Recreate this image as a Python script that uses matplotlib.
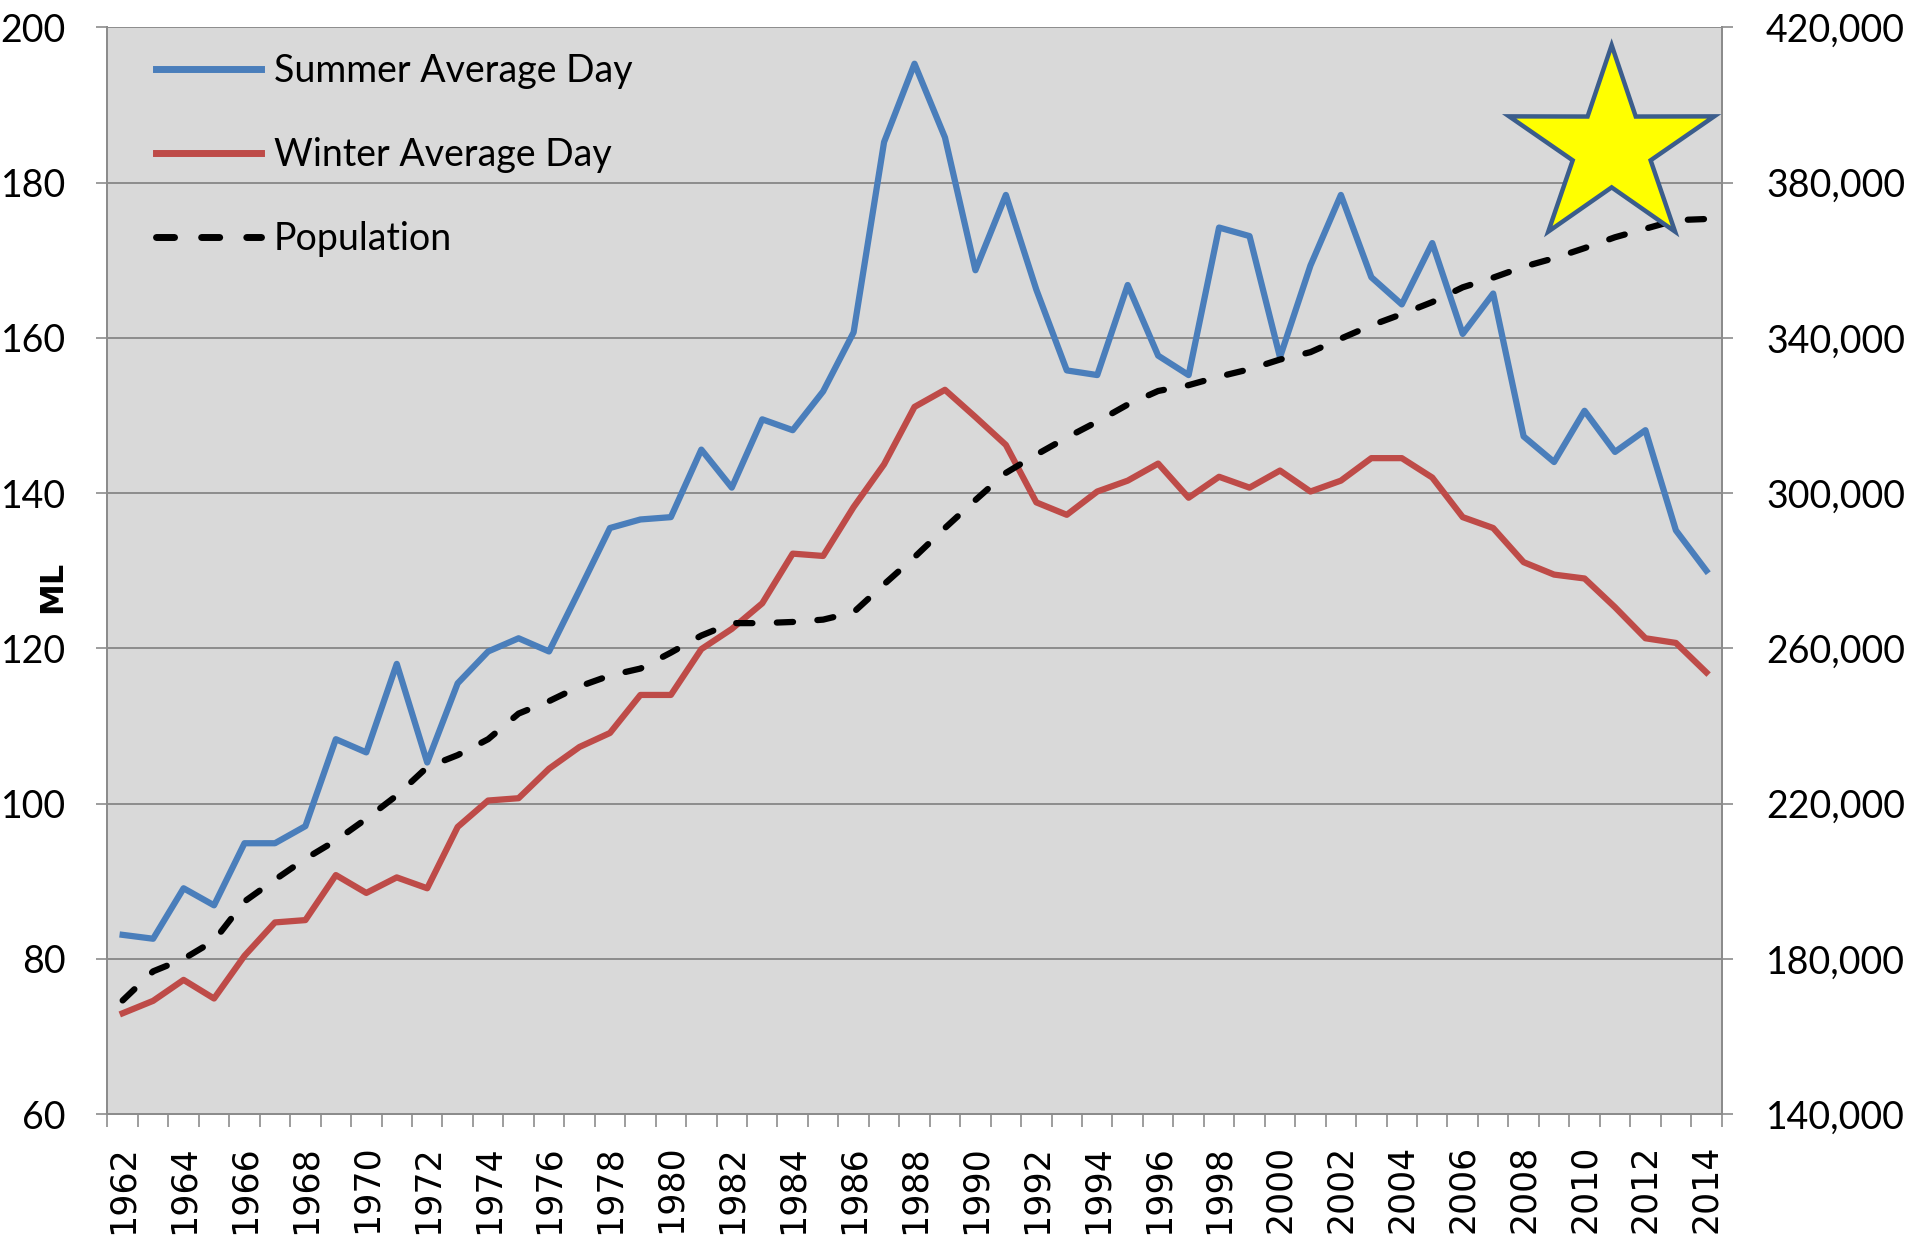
import numpy as np
import matplotlib
matplotlib.use("Agg")
import matplotlib.pyplot as plt
from matplotlib.patches import Polygon
from matplotlib.ticker import FixedLocator, FuncFormatter

# Daily water use (ML) and population, 1962-2014
years = list(range(1962, 2015))

summer_avg = [83.1, 82.6, 89.1, 86.9, 94.9, 94.9, 97.1, 108.3, 106.6, 118.0,
              105.3, 115.5, 119.6, 121.3, 119.6, 127.5, 135.5, 136.6, 136.9, 145.6,
              140.7, 149.5, 148.1, 153.1, 160.7, 185.2, 195.3, 185.8, 168.7, 178.4,
              166.2, 155.8, 155.2, 166.8, 157.7, 155.2, 174.2, 173.1, 157.5, 169.3,
              178.4, 167.8, 164.3, 172.2, 160.5, 165.7, 147.3, 144.0, 150.6, 145.3,
              148.1, 135.2, 130.0]

winter_avg = [73.0, 74.6, 77.3, 74.9, 80.4, 84.7, 85.0, 90.8, 88.5, 90.5,
              89.1, 97.0, 100.4, 100.7, 104.5, 107.3, 109.1, 114.0, 114.0, 119.9,
              122.5, 125.8, 132.2, 131.9, 138.2, 143.7, 151.1, 153.3, 149.8, 146.2,
              138.8, 137.2, 140.2, 141.6, 143.8, 139.4, 142.1, 140.7, 142.9, 140.2,
              141.6, 144.5, 144.5, 142.0, 136.9, 135.5, 131.1, 129.5, 129.0, 125.3,
              121.3, 120.7, 116.9]

population = [169300, 176800, 180000, 184700, 194800, 200400, 205800, 210500, 216100, 222100,
              229400, 232500, 236600, 243200, 246400, 250200, 253000, 254800, 258900, 263300,
              266500, 266500, 266800, 267400, 269300, 276500, 283500, 291000, 298200, 305200,
              309900, 314300, 318400, 322800, 326300, 327800, 330000, 331900, 334400, 336300,
              339800, 343200, 346100, 349200, 353000, 355500, 358300, 360500, 363100, 365900,
              368100, 370300, 370600]

left_ticks = [60, 80, 100, 120, 140, 160, 180, 200]
right_ticks = [140000, 180000, 220000, 260000, 300000, 340000, 380000, 420000]

BLUE = '#4a7ebb'
RED = '#be4b48'
GRID = '#8c8c8c'
LABEL_FONT = ['Lato', 'DejaVu Sans']


def star_points(cx, cy, rx, ry, inner=0.38):
    # five pointed star, first point straight up, in axes fraction
    pts = []
    for k in range(10):
        ang = np.pi / 2 + k * np.pi / 5
        r = 1.0 if k % 2 == 0 else inner
        pts.append((cx + rx * r * np.cos(ang), cy + ry * r * np.sin(ang)))
    return pts


fig = plt.figure(figsize=(19.15, 12.38), dpi=100)
ax = fig.add_axes([0.0561, 0.100, 0.8429, 0.878])
ax2 = ax.twinx()

ax.set_facecolor('#d9d9d9')
ax2.patch.set_visible(False)

xi = list(range(len(years)))
l1, = ax.plot(xi, summer_avg, color=BLUE, linewidth=4.5, solid_joinstyle='round', zorder=3)
l2, = ax.plot(xi, winter_avg, color=RED, linewidth=4.5, solid_joinstyle='round', zorder=3)
l3, = ax2.plot(xi, population, color='black', linewidth=4.5, linestyle=(0, (2.6, 3.9)),
               dash_capstyle='round', zorder=3)

ax.set_xlim(-0.5, len(years) - 0.5)
ax.set_ylim(60, 200)
ax2.set_ylim(140000, 420000)

ax.yaxis.set_major_locator(FixedLocator(left_ticks))
ax2.yaxis.set_major_locator(FixedLocator(right_ticks))
ax2.yaxis.set_major_formatter(FuncFormatter(lambda v, p: '{:,.0f}'.format(v)))

ax.grid(axis='y', color=GRID, linewidth=1.4)
ax.set_axisbelow(True)

# year labels every other year, tick marks on category boundaries
ax.set_xticks(xi[::2])
ax.set_xticklabels([str(y) for y in years[::2]], rotation=90, fontsize=25,
                   family='DejaVu Sans')
ax.set_xticks([i - 0.5 for i in range(len(years) + 1)], minor=True)
ax.tick_params(axis='x', which='major', length=0, pad=22)
ax.tick_params(axis='x', which='minor', length=9, width=1.2, color=GRID, direction='out')

ax.tick_params(axis='y', length=8, width=1.2, color=GRID, labelsize=27, pad=22)
ax2.tick_params(axis='y', length=8, width=1.2, color=GRID, labelsize=27, pad=24)
for lab in ax.get_yticklabels() + ax2.get_yticklabels():
    lab.set_family(LABEL_FONT)

for a in (ax, ax2):
    a.spines['top'].set_visible(False)
    for s in ('left', 'right', 'bottom'):
        a.spines[s].set_color(GRID)
        a.spines[s].set_linewidth(1.4)

# axis title sits between the tick labels, so place it on the figure
fig.text(0.0275, 0.526, 'ML', rotation=90, fontsize=23, fontweight='heavy',
         family=['DejaVu Sans'], ha='center', va='center')

leg = ax.legend([l1, l2, l3], ['Summer Average Day', 'Winter Average Day', 'Population'],
                loc='upper left', bbox_to_anchor=(0.030, 0.976), frameon=False,
                borderaxespad=0, borderpad=0, handlelength=2.8, handletextpad=0.35,
                labelspacing=1.28, prop={'family': LABEL_FONT, 'size': 27})
for h in leg.get_lines():
    h.set_linewidth(5.0)

# yellow star annotation (slightly wider than tall, as in the source)
star = Polygon(star_points(0.9319, 0.8887, 0.0668, 0.0948), closed=True,
               facecolor='#ffff00', edgecolor='#3b5d8c', linewidth=3.2,
               joinstyle='miter', transform=ax2.transAxes, clip_on=False, zorder=5)
ax2.add_patch(star)

plt.savefig('out.png', dpi=100)
